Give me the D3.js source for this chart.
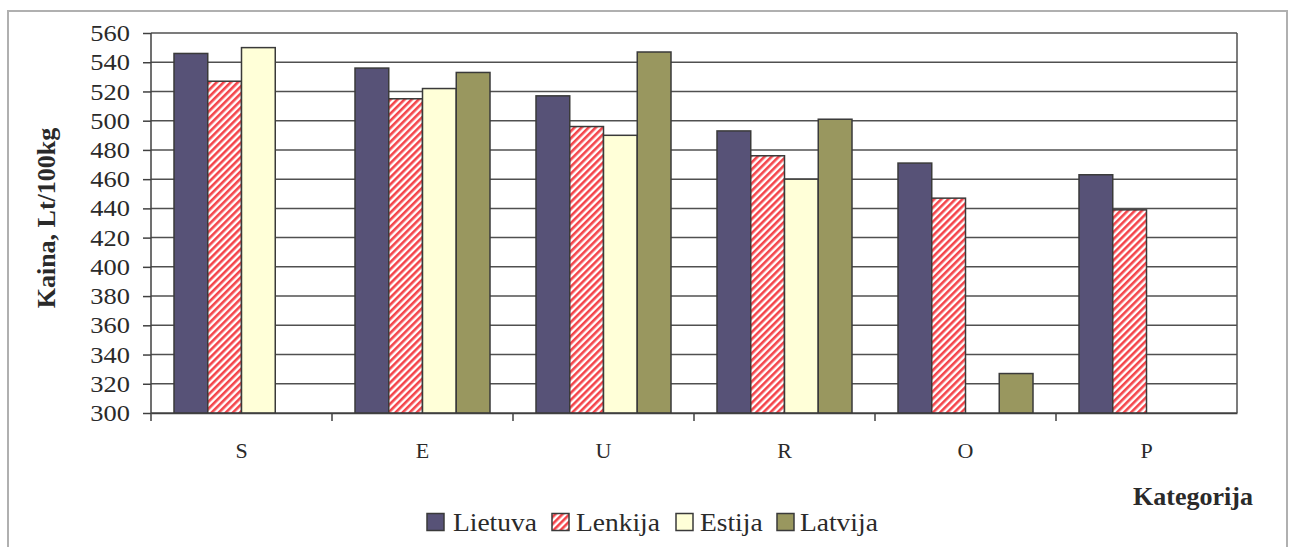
<!DOCTYPE html>
<html>
<head>
<meta charset="utf-8">
<script src="https://cdn.jsdelivr.net/npm/d3@7"></script>
<style>
  body { margin: 0; background: #fff; }
  svg { display: block; }
  text { font-family: "Liberation Serif", "Times New Roman", serif; fill: #2a2a2a; }
</style>
</head>
<body>
<svg id="chart" width="1289" height="547"></svg>
<script>
// data
var categories = ["S", "E", "U", "R", "O", "P"];
var seriesNames = ["Lietuva", "Lenkija", "Estija", "Latvija"];
var lietuva = [546, 536, 517, 493, 471, 463];
var lenkija = [527, 515, 496, 476, 447, 439];
var estija  = [550, 522, 490, 460, null, null];
var latvija = [null, 533, 547, 501, 327, null];
var yTicks = [300, 320, 340, 360, 380, 400, 420, 440, 460, 480, 500, 520, 540, 560];

var seriesValues = [lietuva, lenkija, estija, latvija];
var fills = ["#575277", "url(#hatch)", "#ffffd8", "#99975f"];

var svg = d3.select('#chart'),
    margin = {top: 33, right: 52, bottom: 134, left: 151};
var width  = 1289 - margin.left - margin.right;
var height = 547 - margin.top - margin.bottom;

// outer frame
svg.append("rect")
  .attr("x", 8).attr("y", 11)
  .attr("width", 1279).attr("height", 560)
  .attr("fill", "#fff")
  .attr("stroke", "#b0b0b0")
  .attr("stroke-width", 2);

var defs = svg.append("defs");
var pat = defs.append("pattern")
  .attr("id", "hatch")
  .attr("patternUnits", "userSpaceOnUse")
  .attr("width", 5).attr("height", 5)
  .attr("patternTransform", "rotate(45)");
pat.append("rect").attr("width", 5).attr("height", 5).attr("fill", "#fff");
pat.append("rect").attr("width", 2.6).attr("height", 5).attr("fill", "#f4444a");

var canvas = svg.append("g").attr("transform", "translate(" + margin.left + "," + margin.top + ")");

var x = d3.scaleBand().domain(categories).range([0, width]).paddingInner(0).paddingOuter(0);
var groupPad = 23;
var x1 = d3.scaleBand().domain(seriesNames).range([groupPad, x.bandwidth() - groupPad]);
var y = d3.scaleLinear().domain([300, 560]).range([height, 0]);

// gridlines
canvas.append("g")
  .selectAll("line")
  .data(yTicks)
  .enter().append("line")
  .attr("x1", 0).attr("x2", width)
  .attr("y1", function(d) { return y(d); })
  .attr("y2", function(d) { return y(d); })
  .attr("stroke", "#505050")
  .attr("stroke-width", 1.5);

// right edge of plot area
canvas.append("line")
  .attr("x1", width).attr("x2", width)
  .attr("y1", 0).attr("y2", height)
  .attr("stroke", "#505050").attr("stroke-width", 1.5);

// bars
seriesValues.forEach(function(vals, si) {
  canvas.append("g")
    .selectAll("rect")
    .data(categories.map(function(c, i) { return {cat: c, v: vals[i]}; })
      .filter(function(d) { return d.v != null; }))
    .enter().append("rect")
    .attr("x", function(d) { return x(d.cat) + x1(seriesNames[si]); })
    .attr("y", function(d) { return y(d.v); })
    .attr("width", x1.bandwidth())
    .attr("height", function(d) { return height - y(d.v); })
    .attr("fill", fills[si])
    .attr("stroke", "#3a3a3a")
    .attr("stroke-width", 1.5);
});

// y axis
var yScaleX = 1.15;
var yAxis = d3.axisLeft(y).tickValues(yTicks).tickSize(8).tickPadding(0);
var yg = canvas.append("g").call(yAxis);
yg.attr("font-family", null).attr("font-size", null);
yg.select(".domain").attr("stroke", "#404040").attr("stroke-width", 1.5).attr("d", "M0,0V" + (height + 8));
yg.selectAll(".tick line").attr("stroke", "#404040").attr("stroke-width", 1.5);
yg.selectAll(".tick text")
  .attr("x", -21 / yScaleX)
  .attr("dy", "0.33em")
  .attr("transform", "scale(" + yScaleX + ",1)")
  .style("font-size", "23px");

// x axis
var xAxis = d3.axisBottom(x).tickSize(0).tickPadding(0);
var xg = canvas.append("g").attr("transform", "translate(0," + height + ")").call(xAxis);
xg.attr("font-family", null).attr("font-size", null);
xg.select(".domain").attr("stroke", "#404040").attr("stroke-width", 1.5);
xg.selectAll(".tick text")
  .attr("y", 45).attr("dy", null)
  .style("font-size", "22px");
xg.append("g").selectAll("line")
  .data(categories.slice(1))
  .enter().append("line")
  .attr("x1", function(d) { return x(d); })
  .attr("x2", function(d) { return x(d); })
  .attr("y1", 0).attr("y2", 8)
  .attr("stroke", "#404040").attr("stroke-width", 1.5);

// axis titles
svg.append("text")
  .attr("transform", "translate(55,218) rotate(-90)")
  .attr("text-anchor", "middle")
  .style("font-weight", "bold")
  .style("font-size", "26px")
  .text("Kaina, Lt/100kg");

svg.append("text")
  .attr("x", 1193).attr("y", 505)
  .attr("text-anchor", "middle")
  .style("font-weight", "bold")
  .style("font-size", "26px")
  .text("Kategorija");

// legend
var swatchX = [427, 552, 676, 777];
var labelX = [453, 576, 700, 800];
var legScale = 1.1;
var legend = svg.append("g");
seriesNames.forEach(function(name, i) {
  legend.append("rect")
    .attr("x", swatchX[i]).attr("y", 513.5)
    .attr("width", 17).attr("height", 17)
    .attr("fill", fills[i])
    .attr("stroke", "#3a3a3a").attr("stroke-width", 1.5);
  legend.append("text")
    .attr("transform", "translate(" + labelX[i] + ",531) scale(" + legScale + ",1)")
    .style("font-size", "25px")
    .attr("fill", "#333")
    .text(name);
});
</script>
</body>
</html>
